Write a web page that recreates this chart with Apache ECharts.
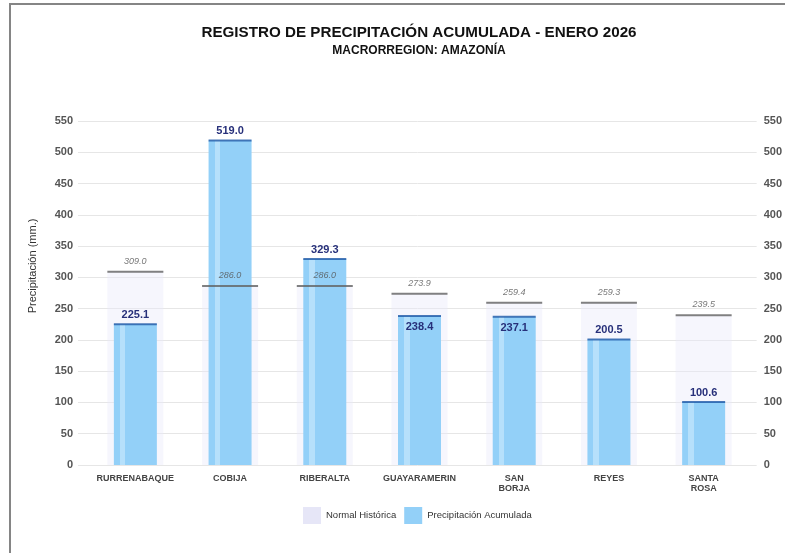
<!DOCTYPE html>
<html lang="es">
<head>
    <meta charset="UTF-8">
    <title>Precipitación acumulada</title>
    <script src="https://cdn.jsdelivr.net/npm/echarts@6/dist/echarts.min.js"></script>
    <style>
        body { margin: 0; background: #fff; }
        #frame {
            position: absolute;
            left: 9px;
            top: 3px;
            width: 800px;
            height: 600px;
            border-left: 2px solid #858585;
            border-top: 2px solid #858585;
        }
        #box {
            position: absolute;
            left: 0;
            top: 0;
            width: 785px;
            height: 553px;
        }
    </style>
</head>
<body>
<div id="frame"></div>
<div id="box"></div>
<script>
    var estaciones = ['RURRENABAQUE', 'COBIJA', 'RIBERALTA', 'GUAYARAMERIN', 'SAN\nBORJA', 'REYES', 'SANTA\nROSA'];
    var normal = [309.0, 286.0, 286.0, 273.9, 259.4, 259.3, 239.5];
    var precip = [225.1, 519.0, 329.3, 238.4, 237.1, 200.5, 100.6];
    var yTicks = [0, 550, 50];

    var font = '"Liberation Sans", Arial, sans-serif';
    var mychart = echarts.init(document.getElementById('box'));

    // label de precipitacion dentro de la barra si choca con la linea normal
    var precipData = precip.map(function (v, i) {
        var d = normal[i] - v;
        if (d > 0 && d < 40) {
            return { value: v, label: { position: 'insideTop', distance: 6 } };
        }
        return v;
    });

    var azul = new echarts.graphic.LinearGradient(0, 0, 1, 0, [
        { offset: 0, color: '#93d0f8' },
        { offset: 0.14, color: '#93d0f8' },
        { offset: 0.14, color: '#b6e0fb' },
        { offset: 0.27, color: '#b6e0fb' },
        { offset: 0.27, color: '#93d0f8' },
        { offset: 1, color: '#93d0f8' }
    ]);

    var option = {
        textStyle: { fontFamily: font },
        title: [{
            text: 'REGISTRO DE PRECIPITACIÓN ACUMULADA - ENERO 2026',
            left: 414, top: 20, textAlign: 'center',
            textStyle: { fontFamily: font, fontSize: 15.2, fontWeight: 'bold', color: '#111' }
        }, {
            text: 'MACRORREGION: AMAZONÍA',
            left: 414, top: 40, textAlign: 'center',
            textStyle: { fontFamily: font, fontSize: 12, fontWeight: 'bold', color: '#111' }
        }],
        legend: {
            left: 298, top: 502,
            icon: 'rect',
            itemWidth: 18, itemHeight: 17, itemGap: 8,
            textStyle: { fontFamily: font, fontSize: 9.5, color: '#333' },
            data: [
                { name: 'Normal Histórica', itemStyle: { color: '#e6e6f7' } },
                { name: 'Precipitación Acumulada', itemStyle: { color: '#93d0f8' } }
            ]
        },
        graphic: [{
            type: 'text',
            x: 33, y: 266, rotation: Math.PI / 2,
            style: {
                text: 'Precipitación (mm.)',
                font: '11px ' + font, fill: '#333',
                align: 'center', verticalAlign: 'middle'
            }
        }],
        grid: [
            { left: 78, right: 27, top: 121, bottom: 88 },
            { left: 88, right: 34, top: 121, bottom: 88 }
        ],
        xAxis: [
            { gridIndex: 0, type: 'value', show: false, min: 0, max: 1 },
            {
                gridIndex: 1, type: 'category', data: estaciones,
                axisLine: { show: false }, axisTick: { show: false },
                axisLabel: { interval: 0, fontFamily: font, fontSize: 9, fontWeight: 'bold', color: '#444', margin: 9, lineHeight: 10 }
            },
            { gridIndex: 1, type: 'category', data: estaciones, show: false }
        ],
        yAxis: [
            {
                gridIndex: 0, type: 'value', min: yTicks[0], max: yTicks[1], interval: yTicks[2],
                axisLine: { show: false }, axisTick: { show: false },
                splitLine: { lineStyle: { color: '#e6e6e6' } },
                axisLabel: { fontFamily: font, fontSize: 11, fontWeight: 'bold', color: '#555', margin: 5 }
            },
            {
                gridIndex: 0, type: 'value', position: 'right', min: yTicks[0], max: yTicks[1], interval: yTicks[2],
                axisLine: { show: false }, axisTick: { show: false }, splitLine: { show: false },
                axisLabel: { fontFamily: font, fontSize: 11, fontWeight: 'bold', color: '#555', margin: 7 }
            },
            { gridIndex: 1, type: 'value', show: false, min: yTicks[0], max: yTicks[1] }
        ],
        series: [
            {
                name: 'Normal Histórica', type: 'bar', xAxisIndex: 2, yAxisIndex: 2,
                data: normal, barWidth: 56, z: 1,
                itemStyle: { color: 'rgba(232,232,250,0.4)' }
            },
            {
                name: 'Precipitación Acumulada', type: 'bar', xAxisIndex: 1, yAxisIndex: 2,
                data: precipData, barWidth: 43, z: 2,
                itemStyle: { color: azul },
                label: {
                    show: true, position: 'top', distance: 4,
                    fontFamily: font, fontSize: 11, fontWeight: 'bold', color: '#27307a',
                    formatter: function (p) { return p.value.toFixed(1); }
                }
            },
            {
                name: 'tope', type: 'scatter', xAxisIndex: 1, yAxisIndex: 2,
                data: precip, symbol: 'rect', symbolSize: [43, 2], z: 3,
                itemStyle: { color: '#1d58a6' }, silent: true
            },
            {
                name: 'linea normal', type: 'scatter', xAxisIndex: 1, yAxisIndex: 2,
                data: normal, symbol: 'rect', symbolSize: [56, 2], z: 4,
                itemStyle: { color: '#626262' }, silent: true,
                label: {
                    show: true, position: 'top', distance: 5,
                    fontFamily: font, fontSize: 9, fontStyle: 'italic', color: '#555',
                    formatter: function (p) { return p.value.toFixed(1); }
                }
            }
        ]
    };
    mychart.setOption(option);
</script>
</body>
</html>
